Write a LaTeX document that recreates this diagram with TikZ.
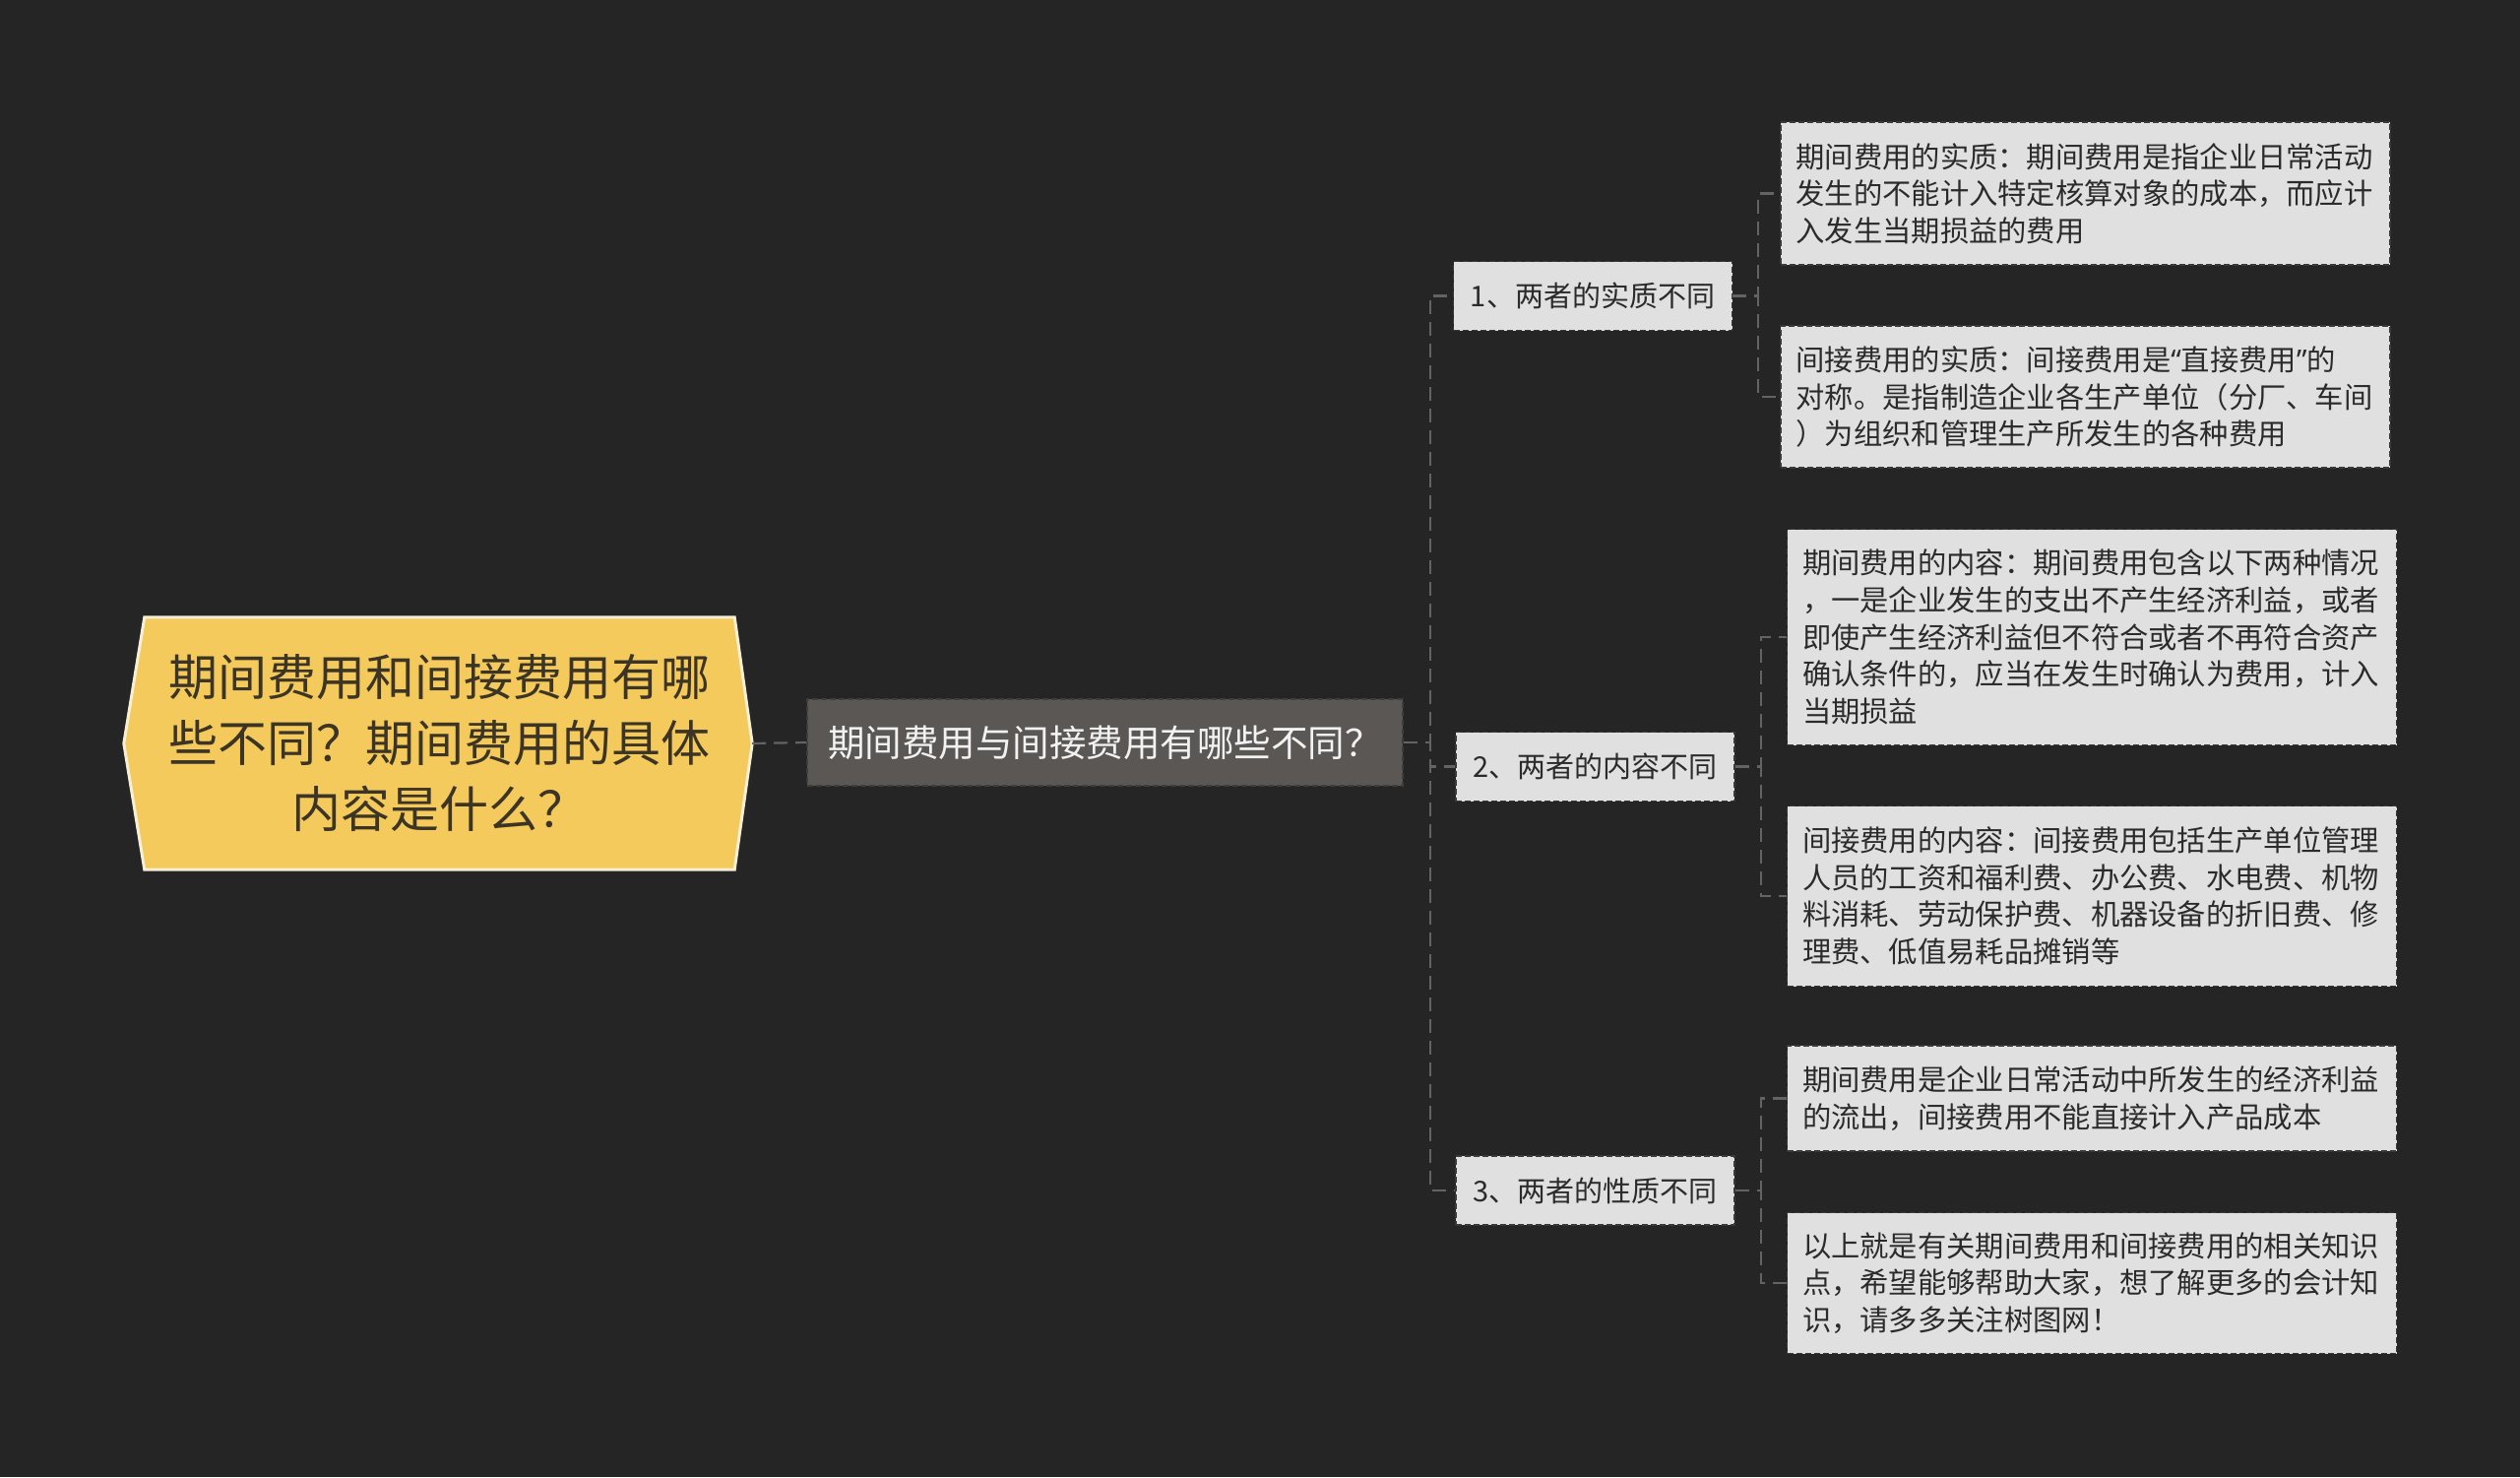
\documentclass[tikz,border=0pt]{standalone}
\usepackage{fontspec}
\setmainfont{Noto Sans CJK SC}
\newfontfamily\latinq{Noto Sans}
\usetikzlibrary{calc}
\definecolor{bgc}{HTML}{252525}
\definecolor{rootfill}{HTML}{F4CA5C}
\definecolor{rootline}{HTML}{F6EFD5}
\definecolor{roottext}{HTML}{3C3425}
\definecolor{midfill}{HTML}{5A5755}
\definecolor{midline}{HTML}{3E3D3C}
\definecolor{midtext}{HTML}{F2F2F2}
\definecolor{leaffill}{HTML}{E0E0E0}
\definecolor{leafline}{HTML}{3A3A3A}
\definecolor{leaftext}{HTML}{2B2B2B}
\definecolor{connc}{HTML}{636363}
\tikzset{
  rootbox/.style={rectangle, inner sep=0pt, minimum width=599pt, minimum height=256pt,
    align=center, text=roottext, font=\fontsize{50pt}{67pt}\selectfont},
  rootshape/.style={fill=rootfill, draw=rootline, line width=3pt, line join=miter},
  midbox/.style={rectangle, fill=midfill, draw=midline, line width=1.5pt,
    dash pattern=on 6pt off 3pt, inner sep=0pt, minimum width=605pt, minimum height=88pt,
    text=midtext, font=\fontsize{37.5pt}{44pt}\selectfont},
  secbox/.style={rectangle, fill=leaffill, draw=leafline, line width=1.5pt,
    dash pattern=on 6pt off 3pt, inner sep=0pt, minimum width=283pt, minimum height=70pt,
    text=leaftext, font=\fontsize{29pt}{37.6pt}\selectfont},
  leafbox/.style={rectangle, fill=leaffill, draw=leafline, line width=1.5pt,
    dash pattern=on 6pt off 3pt, inner xsep=15.5pt, inner ysep=0pt, text width=588pt,
    align=left, text=leaftext, font=\fontsize{29.3pt}{37.6pt}\selectfont},
  conn/.style={draw=connc, line width=2.2pt, dash pattern=on 14pt off 8pt}
}
\begin{document}
\begin{tikzpicture}[x=1pt,y=-1pt]
\fill[bgc] (0,0) rectangle (2560,1500);
\useasboundingbox (0,0) rectangle (2560,1500);

% root
\node[rootbox] (root) at (446.5,755) {};
\coordinate (rootL) at ($(root.west)+(-21,0)$);
\coordinate (rootR) at ($(root.east)+(18,0)$);
\draw[rootshape] (root.north west) -- (root.north east) -- (rootR) -- (root.south east)
  -- (root.south west) -- (rootL) -- cycle;
\node[rootbox] (roottext) at (446.5,755) {期间费用和间接费用有哪\\些不同？期间费用的具体\\内容是什么？};

% level 1
\node[midbox] (mid) at (1122.5,754) {期间费用与间接费用有哪些不同？};

% level 2
\node[secbox] (s1) at (1618,300.5) {1、两者的实质不同};
\node[secbox] (s2) at (1620.5,778.5) {2、两者的内容不同};
\node[secbox] (s3) at (1620.5,1209) {3、两者的性质不同};

% level 3
\node[leafbox, minimum height=145pt] (a1) at (2118.5,196.5)
  {期间费用的实质：期间费用是指企业日常活动\\发生的不能计入特定核算对象的成本，而应计\\入发生当期损益的费用};
\node[leafbox, minimum height=144pt] (a2) at (2118.5,403)
  {间接费用的实质：间接费用是{\latinq “}直接费用{\latinq ”}的\\对称。是指制造企业各生产单位（分厂、车间\\）为组织和管理生产所发生的各种费用};
\node[leafbox, minimum height=219pt] (b1) at (2125,647)
  {期间费用的内容：期间费用包含以下两种情况\\，一是企业发生的支出不产生经济利益，或者\\即使产生经济利益但不符合或者不再符合资产\\确认条件的，应当在发生时确认为费用，计入\\当期损益};
\node[leafbox, minimum height=183pt] (b2) at (2125,910)
  {间接费用的内容：间接费用包括生产单位管理\\人员的工资和福利费、办公费、水电费、机物\\料消耗、劳动保护费、机器设备的折旧费、修\\理费、低值易耗品摊销等};
\node[leafbox, minimum height=107pt] (c1) at (2125,1115.5)
  {期间费用是企业日常活动中所发生的经济利益\\的流出，间接费用不能直接计入产品成本};
\node[leafbox, minimum height=143pt] (c2) at (2125,1303)
  {以上就是有关期间费用和间接费用的相关知识\\点，希望能够帮助大家，想了解更多的会计知\\识，请多多关注树图网！};

% connectors
\draw[conn] (rootR) -- (mid.west);
\draw[conn] (mid.east) -- ++(27,0) |- (s1.west);
\draw[conn] (mid.east) -- ++(27,0) |- (s2.west);
\draw[conn] (mid.east) -- ++(27,0) |- (s3.west);
\draw[conn] (s1.east) -- ++(26,0) |- (a1.west);
\draw[conn] (s1.east) -- ++(26,0) |- (a2.west);
\draw[conn] (s2.east) -- ++(26,0) |- (b1.west);
\draw[conn] (s2.east) -- ++(26,0) |- (b2.west);
\draw[conn] (s3.east) -- ++(26,0) |- (c1.west);
\draw[conn] (s3.east) -- ++(26,0) |- (c2.west);
\end{tikzpicture}
\end{document}
